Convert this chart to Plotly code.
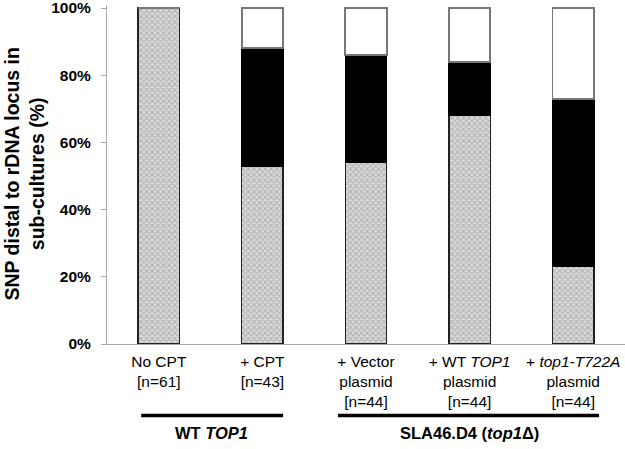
import plotly.graph_objects as go

categories = ["No CPT<br>[n=61]", "+ CPT<br>[n=43]", "+ Vector<br>plasmid<br>[n=44]",
              "+ WT <i>TOP1</i><br>plasmid<br>[n=44]", "+ <i>top1-T722A</i><br>plasmid<br>[n=44]"]
hatched = [100, 53, 54, 68, 23]
black = [0, 35, 32, 16, 50]
white = [0, 12, 14, 16, 27]
group_labels = ["WT <i>TOP1</i>", "SLA46.D4 (<i>top1</i>Δ)"]
y_title = "SNP distal to rDNA locus in<br>sub-cultures (%)"
y_ticks = [0, 20, 40, 60, 80, 100]

x = list(range(len(categories)))
fig = go.Figure()
fig.add_trace(go.Bar(x=x, y=hatched, width=0.4, cliponaxis=False,
                     marker=dict(color="#c8c8c8", line=dict(color="#222", width=1.5),
                                 pattern=dict(shape="x", size=4, fgcolor="#8c8c8c",
                                              bgcolor="#dcdcdc", solidity=0.5))))
fig.add_trace(go.Bar(x=x, y=black, width=0.4, cliponaxis=False,
                     marker=dict(color="black", line=dict(color="black", width=1.5))))
fig.add_trace(go.Bar(x=x, y=white, width=0.4, cliponaxis=False,
                     marker=dict(color="white", line=dict(color="#777", width=1.8))))

fig.update_layout(
    barmode="stack", width=625, height=449, showlegend=False,
    margin=dict(l=107, r=0, t=5, b=105, autoexpand=False),
    plot_bgcolor="white", paper_bgcolor="white",
    font=dict(family="Arial, Liberation Sans, sans-serif", color="black"),
    xaxis=dict(tickmode="array", tickvals=x, ticktext=categories, range=[-0.5, 4.5],
               showline=True, linecolor="#aaa", linewidth=1, ticks="", automargin=False,
               ticklabelstandoff=3, tickfont=dict(size=15.5), showgrid=False),
    yaxis=dict(range=[0, 100.9], tickvals=y_ticks,
               ticktext=["<b>%d%%</b>" % v for v in y_ticks],
               showline=True, linecolor="#aaa", linewidth=1, ticks="outside", ticklen=5,
               tickcolor="#aaa", tickfont=dict(size=15.5), showgrid=False, automargin=False,
               ticklabelstandoff=7, ticklabeloverflow="allow"),
)

fig.add_annotation(x=-0.160, y=0.503, xref="paper", yref="paper", text="<b>" + y_title + "</b>",
                   textangle=-90, showarrow=False, xanchor="center", yanchor="middle",
                   font=dict(size=19.5))

# group lines and labels
fig.add_shape(type="line", xref="x", yref="paper", x0=-0.17, x1=1.2, y0=-0.211, y1=-0.211,
              line=dict(color="black", width=3.5))
fig.add_shape(type="line", xref="x", yref="paper", x0=1.73, x1=4.25, y0=-0.211, y1=-0.211,
              line=dict(color="black", width=3.5))
fig.add_annotation(x=0.51, y=-0.262, xref="x", yref="paper", text="<b>" + group_labels[0] + "</b>",
                   showarrow=False, xanchor="center", yanchor="middle", font=dict(size=16.5))
fig.add_annotation(x=3.0, y=-0.262, xref="x", yref="paper", text="<b>" + group_labels[1] + "</b>",
                   showarrow=False, xanchor="center", yanchor="middle", font=dict(size=16.5))

fig.write_html("out.html", config={"displayModeBar": False},
               post_script="document.body.style.margin='0';")
